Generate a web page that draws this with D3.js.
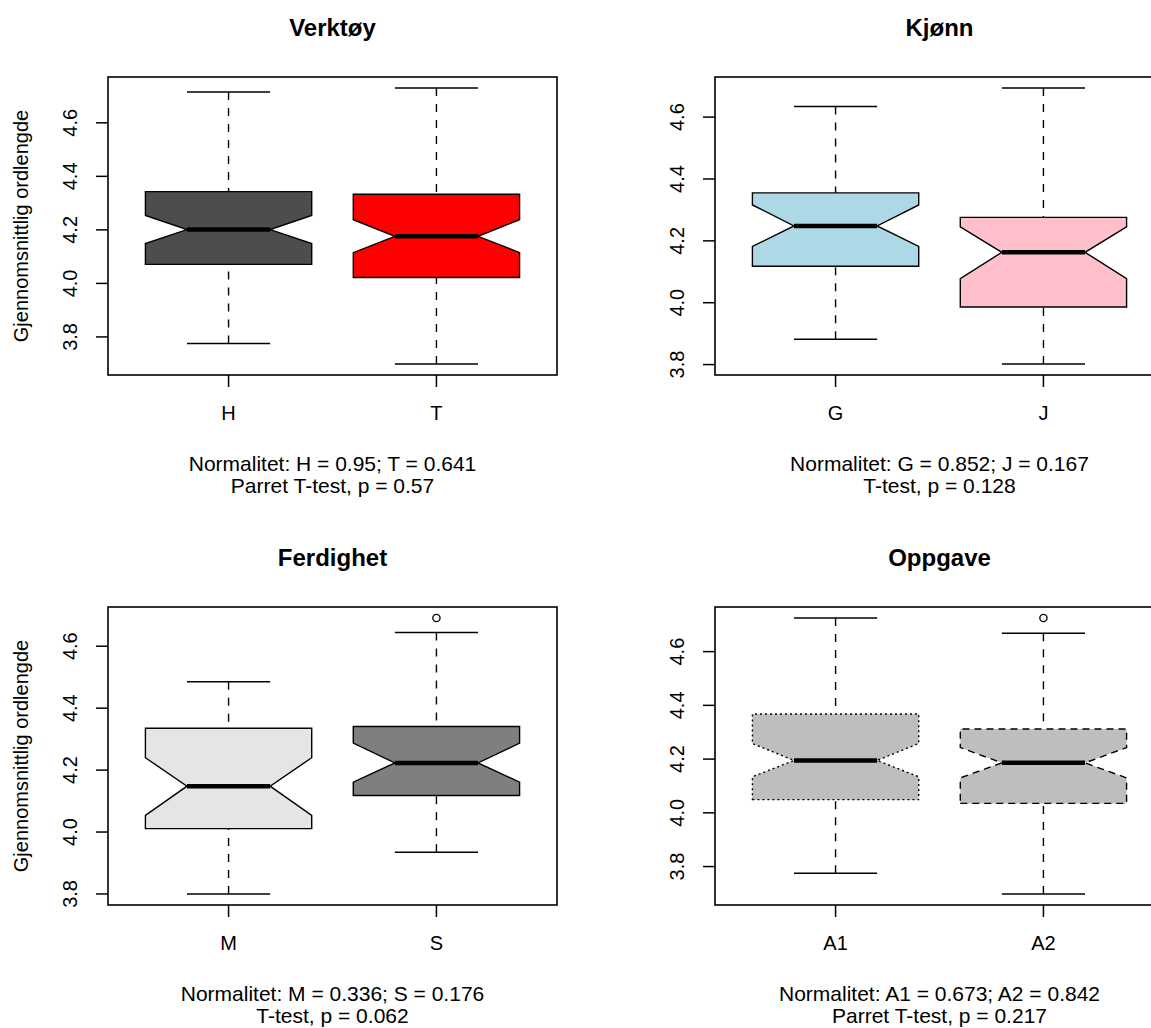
<!DOCTYPE html>
<html>
<head>
<meta charset="utf-8">
<script src="https://cdn.jsdelivr.net/npm/d3@7"></script>
<style>
  html, body { margin: 0; padding: 0; background: #ffffff; }
  svg { display: block; font-family: "Liberation Sans", Arial, sans-serif; }
</style>
</head>
<body>
<script>
// Average word length per group, four comparisons
const panelTitles = ["Verktøy", "Kjønn", "Ferdighet", "Oppgave"];
const groupNames  = [["H", "T"], ["G", "J"], ["M", "S"], ["A1", "A2"]];

// Five-number summaries (whisker ends, quartiles, median)
const whiskerLow  = [[3.775, 3.699], [3.882, 3.802], [3.800, 3.935], [3.775, 3.698]];
const quartile1   = [[4.071, 4.022], [4.118, 3.986], [4.011, 4.118], [4.049, 4.035]];
const medians     = [[4.201, 4.176], [4.248, 4.163], [4.148, 4.223], [4.195, 4.186]];
const quartile3   = [[4.343, 4.333], [4.355, 4.276], [4.335, 4.341], [4.368, 4.312]];
const whiskerHigh = [[4.715, 4.730], [4.634, 4.694], [4.485, 4.644], [4.725, 4.668]];

// Notch limits around the median
const notchLow  = [[4.149, 4.115], [4.182, 4.078], [4.054, 4.161], [4.134, 4.130]];
const notchHigh = [[4.254, 4.238], [4.316, 4.245], [4.240, 4.287], [4.258, 4.243]];

// Points beyond the whiskers
const outliers = [[[], []], [[], []], [[], [4.691]], [[], [4.725]]];

const boxFills   = [["#4d4d4d", "#ff0000"], ["#add8e6", "#ffc0cb"], ["#e5e5e5", "#7f7f7f"], ["#bebebe", "#bebebe"]];
const boxBorders = [["solid", "solid"], ["solid", "solid"], ["solid", "solid"], ["dotted", "dashed"]];

// Shapiro-Wilk p-values and test results printed under each panel
const normality = [["0.95", "0.641"], ["0.852", "0.167"], ["0.336", "0.176"], ["0.673", "0.842"]];
const testNames = ["Parret T-test", "T-test", "T-test", "Parret T-test"];
const pValues   = ["0.57", "0.128", "0.062", "0.217"];

const yTicks = [3.8, 4.0, 4.2, 4.4, 4.6];
const yTitle = "Gjennomsnittlig ordlengde";

const W = 1151, H = 1028;
const plotW = 449, plotH = 298;
const origins = [[108, 77], [715, 77], [108, 607], [715, 607]];
const dashStyles = { solid: null, dashed: "7,5", dotted: "2,3" };

const svg = d3.select("body").append("svg")
  .attr("width", W).attr("height", H);

panelTitles.forEach((title, p) => {
  const [ox, oy] = origins[p];
  const g = svg.append("g").attr("transform", `translate(${ox},${oy})`);

  // value range with the usual 4% padding on each side
  const all = [...whiskerLow[p], ...whiskerHigh[p], ...outliers[p].flat()];
  const lo = d3.min(all), hi = d3.max(all), pad = (hi - lo) * 0.04;
  const y = d3.scaleLinear().domain([lo - pad, hi + pad]).range([plotH, 0]);
  const x = d3.scaleLinear().domain([0.42, 2.58]).range([0, plotW]);

  const halfW = 0.4, stapleW = 0.2, notchFrac = 0.5;

  groupNames[p].forEach((name, i) => {
    const c = i + 1;
    const q1 = quartile1[p][i], q3 = quartile3[p][i], md = medians[p][i];
    const nl = notchLow[p][i], nh = notchHigh[p][i];

    // whiskers (dashed) and staples
    [[whiskerLow[p][i], q1], [whiskerHigh[p][i], q3]].forEach(([a, b]) => {
      g.append("line")
        .attr("x1", x(c)).attr("x2", x(c))
        .attr("y1", y(a)).attr("y2", y(b))
        .attr("stroke", "#000").attr("stroke-width", 1.4)
        .attr("stroke-dasharray", "8,8");
      g.append("line")
        .attr("x1", x(c - stapleW)).attr("x2", x(c + stapleW))
        .attr("y1", y(a)).attr("y2", y(a))
        .attr("stroke", "#000").attr("stroke-width", 1.5);
    });

    // notched box
    const pts = [
      [c - halfW, q1], [c + halfW, q1], [c + halfW, nl], [c + halfW * notchFrac, md],
      [c + halfW, nh], [c + halfW, q3], [c - halfW, q3], [c - halfW, nh],
      [c - halfW * notchFrac, md], [c - halfW, nl]
    ];
    g.append("path")
      .attr("d", d3.line().x(d => x(d[0])).y(d => y(d[1]))(pts) + "Z")
      .attr("fill", boxFills[p][i])
      .attr("stroke", "#000").attr("stroke-width", 1.4)
      .attr("stroke-dasharray", dashStyles[boxBorders[p][i]]);

    // median
    g.append("line")
      .attr("x1", x(c - halfW * notchFrac)).attr("x2", x(c + halfW * notchFrac))
      .attr("y1", y(md)).attr("y2", y(md))
      .attr("stroke", "#000").attr("stroke-width", 4.5);

    // outliers
    outliers[p][i].forEach(v => {
      g.append("circle")
        .attr("cx", x(c)).attr("cy", y(v)).attr("r", 3.6)
        .attr("fill", "none").attr("stroke", "#000").attr("stroke-width", 1.3);
    });

    // x tick and label
    g.append("line")
      .attr("x1", x(c)).attr("x2", x(c))
      .attr("y1", plotH).attr("y2", plotH + 12)
      .attr("stroke", "#000").attr("stroke-width", 1.5);
    g.append("text")
      .attr("x", x(c)).attr("y", plotH + 45)
      .attr("text-anchor", "middle").attr("font-size", 20)
      .text(name);
  });

  // y ticks and rotated labels
  yTicks.filter(t => t >= y.domain()[0] && t <= y.domain()[1]).forEach(t => {
    g.append("line")
      .attr("x1", -12).attr("x2", 0)
      .attr("y1", y(t)).attr("y2", y(t))
      .attr("stroke", "#000").attr("stroke-width", 1.5);
    g.append("text")
      .attr("transform", `translate(-31,${y(t)}) rotate(-90)`)
      .attr("text-anchor", "middle").attr("font-size", 20)
      .text(d3.format(".1f")(t));
  });

  // frame
  g.append("rect")
    .attr("x", 0).attr("y", 0).attr("width", plotW).attr("height", plotH)
    .attr("fill", "none").attr("stroke", "#000").attr("stroke-width", 1.6);

  // title
  g.append("text")
    .attr("x", plotW / 2).attr("y", -41)
    .attr("text-anchor", "middle").attr("font-size", 24).attr("font-weight", "bold")
    .text(title);

  // y-axis title on the left-hand panels
  if (p % 2 === 0) {
    g.append("text")
      .attr("transform", `translate(-80,${plotH / 2}) rotate(-90)`)
      .attr("text-anchor", "middle").attr("font-size", 20)
      .text(yTitle);
  }

  // test summary under the panel
  const [a, b] = groupNames[p];
  g.append("text")
    .attr("x", plotW / 2).attr("y", plotH + 96)
    .attr("text-anchor", "middle").attr("font-size", 21)
    .text(`Normalitet: ${a} = ${normality[p][0]}; ${b} = ${normality[p][1]}`);
  g.append("text")
    .attr("x", plotW / 2).attr("y", plotH + 118)
    .attr("text-anchor", "middle").attr("font-size", 21)
    .text(`${testNames[p]}, p = ${pValues[p]}`);
});
</script>
</body>
</html>
